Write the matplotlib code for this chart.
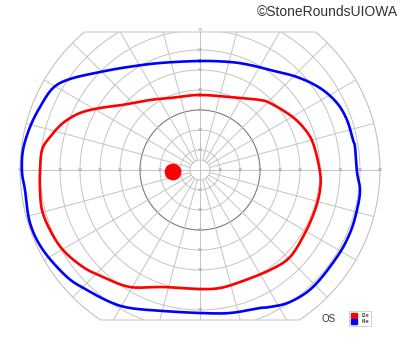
import numpy as np
import matplotlib.pyplot as plt
from matplotlib.patches import Polygon, Patch

# isopters, in degrees of visual field (x: right, y: up)
i4e_x = [0, 15, 25, 35, 48.5, 60, 68.5, 73.5, 76.5, 77.5, 78.5, 80, 78.5, 75, 68.5,
         56.5, 45, 35, 30, 15, 0, -18.5, -35, -45, -56.5, -66.5, -78.5, -85, -87.5,
         -89, -88.5, -85, -80, -73.5, -65, -50, -36, -20]
i4e_y = [54.5, 54, 52.5, 50, 46.5, 41, 33.5, 25, 15, 11.5, -1, -10, -20, -31.5, -43.5,
         -58.5, -66, -68.5, -69, -71.5, -71.5, -70.5, -69, -66, -60, -53.5, -40, -26.5, -10,
         -1, 10, 21.5, 31.5, 41, 45.5, 49, 51.5, 53.5]

i2e_x = [0, 20, 30, 35, 45, 51.5, 56.5, 60, 60, 57.5, 52.5, 45, 35, 20, 10,
         0, -18.5, -35, -48.5, -58.5, -68.5, -75, -79, -80, -80, -79, -75, -68.5,
         -60, -50, -39, -25, -15]
i2e_y = [37.5, 36, 35, 33.5, 27.5, 21.5, 13.5, -1, -10, -20, -31.5, -43.5, -50, -56, -59,
         -59.5, -58.5, -58.5, -53.5, -48.5, -40, -30, -20, -10, -1, 10, 16.5, 23.5,
         28.5, 31, 32.5, 35, 36]

# blind spot
spot_x = [-13.5]
spot_y = [-1]
spot_r = [4.2]

rings = [5, 10, 20, 30, 40, 50, 60, 70, 80, 90]
labels_h = [10, 20, 30, 40, 50, 60, 70, 80, 90]
labels_v = [10, 20, 30, 40, 50, 60, 70]
top_lim, bottom_lim = 69, -75


def smooth_closed(x, y, n=12):
	# catmull-rom through the read points, only for drawing
	p = np.column_stack([x, y]).astype(float)
	k = len(p)
	out = []
	s = np.linspace(0, 1, n, endpoint=False)[:, None]
	for i in range(k):
		p0, p1, p2, p3 = p[i-1], p[i], p[(i+1) % k], p[(i+2) % k]
		seg = 0.5*((2*p1) + (-p0 + p2)*s + (2*p0 - 5*p1 + 4*p2 - p3)*s**2
		           + (-p0 + 3*p1 - 3*p2 + p3)*s**3)
		out.append(seg)
	out = np.vstack(out + [p[:1]])
	return out[:, 0], out[:, 1]


fig = plt.figure(figsize=(4, 3.52), dpi=100)
ax = fig.add_axes([0, 0, 1, 1])
ax.set_xlim(-100, 100)
ax.set_ylim(-91, 85)
ax.set_aspect('equal')
ax.axis('off')

grid_c = '#c4c4c4'
t = np.linspace(0, 2*np.pi, 721)

# outer boundary: 90 deg circle cut flat at top and bottom
bx = 90*np.cos(t)
by = np.clip(90*np.sin(t), bottom_lim, top_lim)
border = Polygon(np.column_stack([bx, by]), closed=True, fill=False,
                 edgecolor=grid_c, lw=0.7)
ax.add_patch(border)

for r in rings:
	col = '#7a7a7a' if r == 30 else grid_c
	ln, = ax.plot(r*np.cos(t), r*np.sin(t), color=col, lw=0.7 if r != 30 else 0.8)
	ln.set_clip_path(border)

for a in np.arange(0, 360, 15):
	ar = np.radians(a)
	r0 = 0 if a % 90 == 0 else 5
	ln, = ax.plot([r0*np.cos(ar), 95*np.cos(ar)], [r0*np.sin(ar), 95*np.sin(ar)],
	              color=grid_c, lw=0.7)
	ln.set_clip_path(border)

for v in labels_h:
	ax.text(v, 0, str(v), fontsize=3, color='#999999', ha='center', va='center')
	ax.text(-v, 0, str(v), fontsize=3, color='#999999', ha='center', va='center')
for v in labels_v:
	ax.text(0, v, str(v), fontsize=3, color='#999999', ha='center', va='center')
	ax.text(0, -v, str(v), fontsize=3, color='#999999', ha='center', va='center')

sx, sy = smooth_closed(i2e_x, i2e_y)
ax.plot(sx, sy, color='#ff0000', lw=1.9, zorder=4)
sx, sy = smooth_closed(i4e_x, i4e_y)
ax.plot(sx, sy, color='#0000ff', lw=1.9, zorder=4)

for cx, cy, cr in zip(spot_x, spot_y, spot_r):
	ax.add_patch(plt.Circle((cx, cy), cr, color='#ff0000', lw=0, zorder=5))

fig.text(0.995, 0.985, '\u00a9StoneRoundsUIOWA', ha='right', va='top',
         fontsize=10, family='Liberation Sans', color='#333333')
fig.text(0.805, 0.095, 'OS', ha='left', va='center', fontsize=7,
         family='Liberation Sans', color='#333333')

handles = [Patch(color='#ff0000', label='I2e'), Patch(color='#0000ff', label='I4e')]
legend = ax.legend(handles=handles, loc='center', bbox_to_anchor=(0.9, 0.095),
                   bbox_transform=fig.transFigure, fontsize=3.5, frameon=True,
                   fancybox=False, handlelength=1.3, handleheight=1.3,
                   handletextpad=1.0, borderpad=0.4, labelspacing=0.25)
frame = legend.get_frame()
frame.set_edgecolor('#bbbbbb')
frame.set_linewidth(0.6)

fig.savefig('out.png', dpi=100)
